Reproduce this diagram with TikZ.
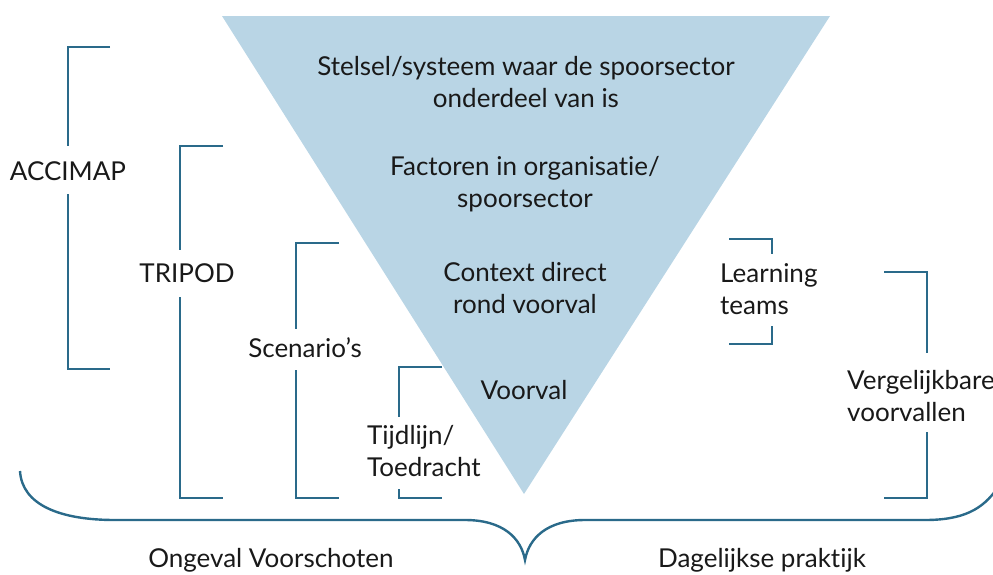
\documentclass[tikz,border=0pt]{standalone}
\usepackage{fontspec}
\setmainfont{Lato}[Ligatures=NoCommon]
\definecolor{tri}{RGB}{185,213,229}
\definecolor{brk}{RGB}{42,106,138}
\begin{document}
\begin{tikzpicture}[x=1pt,y=-1pt,
  brack/.style={draw=brk,line width=2.6pt,line cap=butt,line join=miter},
  lbl/.style={inner sep=0pt,font=\fontsize{26}{31.5}\selectfont,text=black!90},
  lblc/.style={lbl,align=center},
  lbll/.style={lbl,align=left,anchor=west}]
\useasboundingbox (0,0) rectangle (993,574);
% triangle
\fill[tri] (222,16) -- (830,16) -- (524,494) -- cycle;
% triangle texts
\node[lblc] (t1) at (526,82) {Stelsel/systeem waar de spoorsector\\onderdeel van is};
\node[lblc] (t2) at (525,184) {Factoren in organisatie/\\spoorsector};
\node[lblc] (t3) at (525,288) {Context direct\\rond voorval};
\node[lblc] (t4) at (524,390) {Voorval};
% ACCIMAP
\node[lblc] (acc) at (68,171) {ACCIMAP};
\draw[brack] (110,47) -| (68,146);
\draw[brack] (68,194) |- (110,369);
% TRIPOD
\node[lblc] (tri) at (187,273) {TRIPOD};
\draw[brack] (223,146) -| (180,250);
\draw[brack] (180,297) |- (223,498);
% Scenario's
\node[lblc] (sce) at (305,348) {Scenario’s};
\draw[brack] (339,243) -| (296,329);
\draw[brack] (296,370) |- (339,498);
% Tijdlijn
\node[lbll] (tij) at (367,451) {Tijdlijn/\\Toedracht};
\draw[brack] (442,367) -| (399,417);
\draw[brack] (399,489) |- (442,498);
% Learning teams
\node[lbll] (lea) at (720,289) {Learning\\teams};
\draw[brack] (729,239) -| (772,254);
\draw[brack] (772,326) |- (729,344);
% Vergelijkbare
\node[lbll] (ver) at (847,396) {Vergelijkbare\\voorvallen};
\draw[brack] (884,272) -| (927,353);
\draw[brack] (927,432) |- (884,498);
% brace
\draw[brack,line width=2.4pt] (20,471) .. controls (22,505) and (60,520) .. (115,520)
  -- (465,520) .. controls (503,520) and (521,538) .. (525,560)
  .. controls (529,538) and (547,520) .. (585,520)
  -- (925,520) .. controls (962,520) and (983,510) .. (998,487);
% bottom labels
\node[lblc] (ong) at (271,560) {Ongeval Voorschoten};
\node[lblc] (dag) at (762,560) {Dagelijkse praktijk};
\end{tikzpicture}
\end{document}
